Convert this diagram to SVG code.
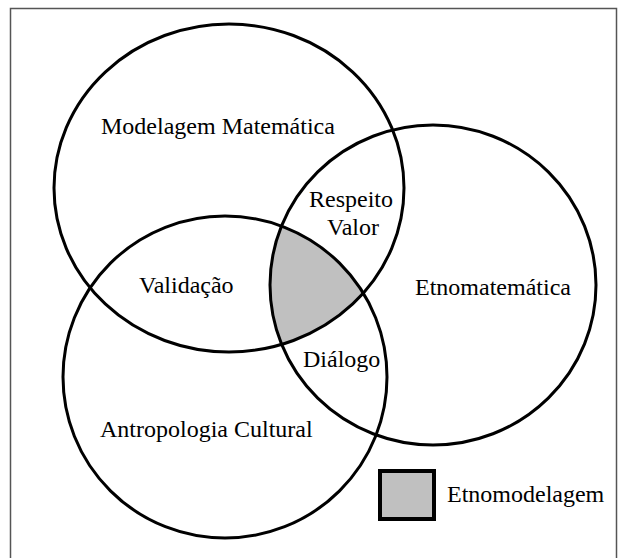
<svg xmlns="http://www.w3.org/2000/svg" width="621" height="558" viewBox="0 0 621 558">
<style>
.ring{fill:none;stroke:#000;stroke-width:3}
.lbl{font-family:"Liberation Serif","Times New Roman",serif;font-size:24px;fill:#000}
</style>
<defs>
<clipPath id="clipM"><ellipse cx="229" cy="188" rx="175" ry="164"/></clipPath>
<clipPath id="clipA"><ellipse cx="225" cy="377" rx="162" ry="161"/></clipPath>
</defs>
<rect x="10.5" y="8.5" width="606" height="560" fill="#fff" stroke="#555" stroke-width="1.5"/>
<g id="shaded" clip-path="url(#clipM)">
<g clip-path="url(#clipA)">
<ellipse cx="433" cy="285" rx="163" ry="160" fill="#c0c0c0"/>
</g>
</g>
<g id="modelagem">
<ellipse class="ring" cx="229" cy="188" rx="175" ry="164"/>
<text class="lbl" x="101" y="134">Modelagem Matemática</text>
</g>
<g id="etnomatematica">
<ellipse class="ring" cx="433" cy="285" rx="163" ry="160"/>
<text class="lbl" x="415" y="295">Etnomatemática</text>
</g>
<g id="antropologia">
<ellipse class="ring" cx="225" cy="377" rx="162" ry="161"/>
<text class="lbl" x="100" y="437">Antropologia Cultural</text>
</g>
<g id="respeito">
<text class="lbl" x="309" y="207">Respeito</text>
<text class="lbl" x="327" y="235">Valor</text>
</g>
<g id="validacao"><text class="lbl" x="139" y="293">Validação</text></g>
<g id="dialogo"><text class="lbl" x="303" y="367">Diálogo</text></g>
<g id="legend">
<rect x="380" y="471" width="54" height="48" fill="#c0c0c0" stroke="#000" stroke-width="4"/>
<text class="lbl" x="447" y="502">Etnomodelagem</text>
</g>
<g id="connectors"></g>
</svg>
